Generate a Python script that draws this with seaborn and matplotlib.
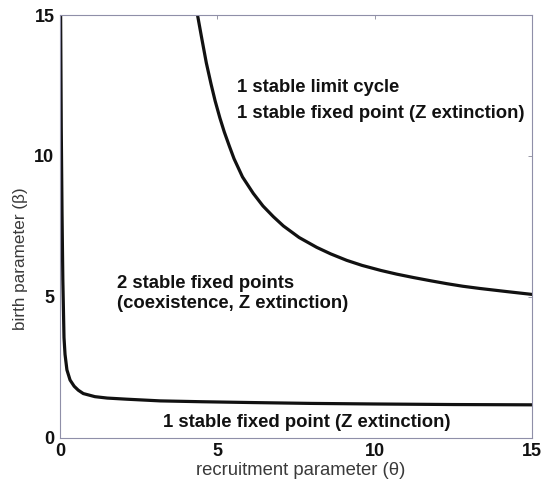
import matplotlib
matplotlib.use("Agg")
import matplotlib.pyplot as plt
import seaborn as sns
import pandas as pd

# ---- data ----
lower_theta = [0.02, 0.04, 0.064, 0.09, 0.127, 0.16, 0.22, 0.32, 0.45, 0.58, 0.74, 1.11,
               1.5, 2.12, 3.18, 4.5, 6.14, 8.0, 10.0, 12.5, 15.0]
lower_beta = [15.0, 11.0, 8.0, 5.6, 3.55, 2.95, 2.4, 2.04, 1.82, 1.68, 1.56, 1.45,
              1.40, 1.36, 1.30, 1.27, 1.24, 1.21, 1.19, 1.17, 1.16]

upper_theta = [4.37, 4.5, 4.65, 4.8, 4.93, 5.08, 5.22, 5.38, 5.53, 5.8, 6.14, 6.45,
               6.78, 7.10, 7.6, 8.16, 8.6, 9.11, 9.6, 10.2, 10.7, 11.23, 11.8, 12.3,
               12.8, 13.35, 14.2, 15.0]
upper_beta = [15.0, 14.2, 13.3, 12.55, 11.95, 11.35, 10.85, 10.35, 9.9, 9.25, 8.67,
              8.22, 7.84, 7.51, 7.10, 6.75, 6.52, 6.29, 6.11, 5.93, 5.80, 5.68, 5.56,
              5.46, 5.37, 5.29, 5.18, 5.08]

ticks = [0, 5, 10, 15]
tick_labels = ["0", "5", "10", "15"]

x_label = "recruitment parameter (\u03b8)"
y_label = "birth parameter (\u03b2)"
region_texts = [
    ("1 stable limit cycle", 5.62, 12.41, "left"),
    ("1 stable fixed point (Z extinction)", 5.62, 11.52, "left"),
    ("2 stable fixed points", 1.81, 5.45, "left"),
    ("(coexistence, Z extinction)", 1.81, 4.77, "left"),
    ("1 stable fixed point (Z extinction)", 7.85, 0.55, "center"),
]

# ---- plotting ----
sns.set_style("white")
fam = ["Liberation Sans", "DejaVu Sans"]
plt.rcParams["font.family"] = fam

df = pd.concat([
    pd.DataFrame({"theta": lower_theta, "beta": lower_beta, "curve": "lower"}),
    pd.DataFrame({"theta": upper_theta, "beta": upper_beta, "curve": "upper"}),
])

fig = plt.figure(figsize=(5.43, 4.87), dpi=100)
ax = fig.add_axes([60 / 543, (487 - 437.5) / 487, 472 / 543, 422.5 / 487])

sns.lineplot(data=df, x="theta", y="beta", units="curve", estimator=None,
             sort=False, color="#111111", linewidth=2.3, ax=ax, legend=False)
for line in ax.lines:
    line.set_solid_joinstyle("round")
    line.set_solid_capstyle("round")

ax.set_xlim(0, 15)
ax.set_ylim(0, 15)
ax.set_xticks(ticks)
ax.set_yticks(ticks)
ax.set_xticklabels(tick_labels, fontweight="bold", fontsize=13)
ax.set_yticklabels(tick_labels, fontweight="bold", fontsize=13)
ax.tick_params(direction="in", length=3, width=0.6, color="#888899",
               top=True, right=True, labelcolor="#111111")
ax.tick_params(axis="x", pad=4)
ax.tick_params(axis="y", pad=4)

for s in ax.spines.values():
    s.set_visible(True)
    s.set_color("#8f8fa8")
    s.set_linewidth(0.8)

ax.set_xlabel(x_label, fontsize=13.3, color="#3a3a3a")
ax.set_ylabel(y_label, fontsize=12.3, color="#3a3a3a")
ax.xaxis.set_label_coords(0.5095, -0.057)
ax.yaxis.set_label_coords(-0.068, 0.4225)

for txt, x, y, ha in region_texts:
    ax.text(x, y, txt, ha=ha, va="center", fontsize=13.3, fontweight="bold",
            color="#111111")

fig.savefig("out.png", dpi=100)
